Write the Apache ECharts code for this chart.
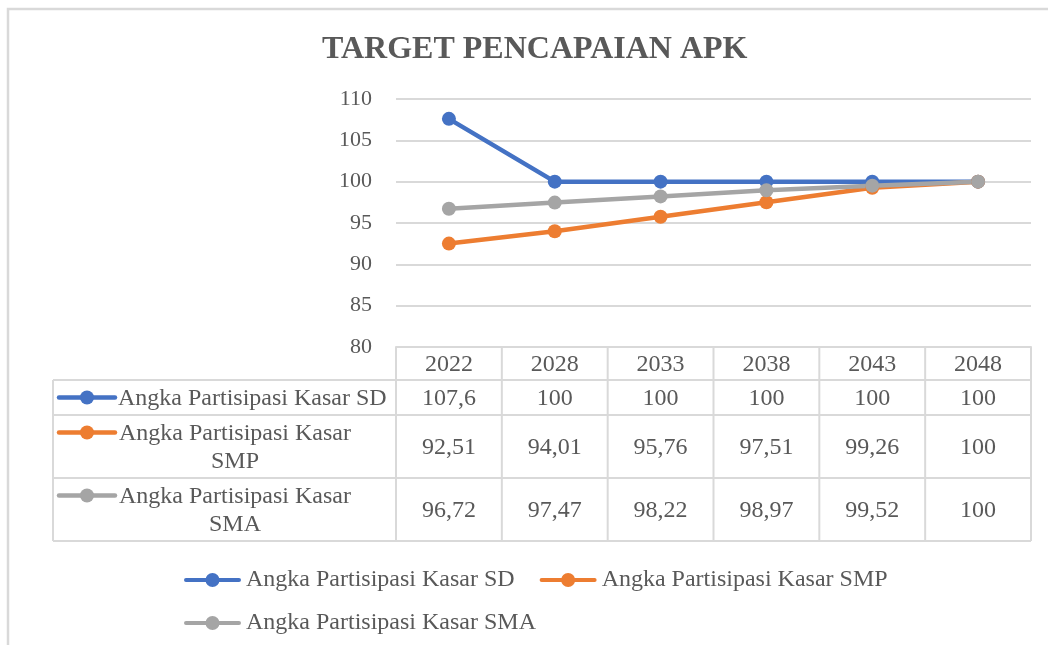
<!DOCTYPE html>
<html>
<head>
<meta charset="utf-8">
<script src="https://cdn.jsdelivr.net/npm/echarts@6/dist/echarts.min.js"></script>
<style>
html, body { margin: 0; padding: 0; background: #fff; }
#chart { width: 1048px; height: 645px; }
</style>
</head>
<body>
<div id="chart"></div>
<script>
const years = ['2022', '2028', '2033', '2038', '2043', '2048'];
const seriesNames = ['Angka Partisipasi Kasar SD', 'Angka Partisipasi Kasar SMP', 'Angka Partisipasi Kasar SMA'];
const apkSD = [107.6, 100, 100, 100, 100, 100];
const apkSMP = [92.51, 94.01, 95.76, 97.51, 99.26, 100];
const apkSMA = [96.72, 97.47, 98.22, 98.97, 99.52, 100];
const yMin = 80, yMax = 110, yStep = 5;

const colors = ['#4472C4', '#ED7D31', '#A5A5A5'];
const textColor = '#595959';
const lineColor = '#D9D9D9';
const font = '"Liberation Serif", "Times New Roman", serif';
// thick line with a dot in the middle, like the Excel legend key
const keyIcon = 'path://M2,5L55,5A2,2 0 0 1 55,9L2,9A2,2 0 0 1 2,5Z M21.5,7A7,7 0 1 1 35.5,7A7,7 0 1 1 21.5,7Z';

const chart = echarts.init(document.getElementById('chart'));

const allValues = [apkSD, apkSMP, apkSMA];

const legendBase = {
    itemWidth: 57,
    itemHeight: 14,
    itemGap: 25,
    icon: keyIcon,
    textStyle: { fontFamily: font, fontSize: 24, color: textColor }
};

chart.setOption({
    animation: false,
    title: {
        text: 'TARGET PENCAPAIAN APK',
        left: 317,
        top: 29,
        textStyle: { fontFamily: font, fontWeight: 'bold', fontSize: 32, color: textColor }
    },
    grid: { left: 396, right: 17, top: 99, bottom: 298 },
    xAxis: {
        type: 'category',
        data: years,
        boundaryGap: true,
        axisLine: { lineStyle: { color: lineColor, width: 2 } },
        axisTick: { show: false },
        axisLabel: { show: false }
    },
    yAxis: {
        type: 'value',
        min: yMin,
        max: yMax,
        interval: yStep,
        axisLine: { show: false },
        axisTick: { show: false },
        splitLine: { lineStyle: { color: lineColor, width: 2 } },
        axisLabel: { margin: 24, fontFamily: font, fontSize: 22, color: textColor }
    },
    legend: [
        Object.assign({ left: 179, top: 563, data: seriesNames.slice(0, 2) }, legendBase),
        Object.assign({ left: 179, top: 606, data: seriesNames.slice(2) }, legendBase)
    ],
    series: seriesNames.map((name, i) => ({
        name: name,
        type: 'line',
        data: allValues[i],
        symbol: 'circle',
        symbolSize: 14,
        color: colors[i],
        lineStyle: { width: 4.5, color: colors[i] },
        itemStyle: { color: colors[i] }
    }))
});

// data table under the plot, columns follow the category axis
function fmt(v) {
    return String(v).replace('.', ',');
}

function buildTable() {
    const centers = years.map((y, i) => chart.convertToPixel({ xAxisIndex: 0 }, i));
    const half = (centers[1] - centers[0]) / 2;
    const colLeft = centers[0] - half;
    const colRight = centers[centers.length - 1] + half;
    const tableLeft = 53;
    const headTop = 347;
    const rows = [
        { top: 380, h: 35 },
        { top: 415, h: 63 },
        { top: 478, h: 63 }
    ];
    const tableBottom = rows[2].top + rows[2].h;
    const g = [];
    const ls = { stroke: lineColor, lineWidth: 2 };

    // outer frame of the chart area
    g.push({ type: 'rect', shape: { x: 8, y: 9, width: 1100, height: 700 },
        style: { fill: null, stroke: lineColor, lineWidth: 2.5 }, silent: true, z: -1 });

    // vertical lines
    for (let i = 0; i <= years.length; i++) {
        const x = colLeft + i * half * 2;
        g.push({ type: 'line', shape: { x1: x, y1: headTop, x2: x, y2: tableBottom }, style: ls });
    }
    g.push({ type: 'line', shape: { x1: tableLeft, y1: rows[0].top, x2: tableLeft, y2: tableBottom }, style: ls });
    // horizontal lines
    rows.forEach(r => {
        g.push({ type: 'line', shape: { x1: tableLeft, y1: r.top, x2: colRight, y2: r.top }, style: ls });
    });
    g.push({ type: 'line', shape: { x1: tableLeft, y1: tableBottom, x2: colRight, y2: tableBottom }, style: ls });

    const ts = { fontFamily: font, fontSize: 24, fill: textColor, align: 'center', verticalAlign: 'middle' };

    // header years
    years.forEach((y, i) => {
        g.push({ type: 'text', x: centers[i], y: (headTop + rows[0].top) / 2 + 1, style: Object.assign({ text: y }, ts) });
    });

    rows.forEach((r, s) => {
        const cy = r.top + r.h / 2;
        allValues[s].forEach((v, i) => {
            g.push({ type: 'text', x: centers[i], y: cy + 1, style: Object.assign({ text: fmt(v) }, ts) });
        });
        const name = seriesNames[s];
        let iconY;
        if (name.length <= 26) {
            iconY = cy;
            g.push({ type: 'text', x: 118, y: cy + 1,
                style: Object.assign({}, ts, { text: name, align: 'left' }) });
        } else {
            const cut = name.lastIndexOf(' ');
            iconY = cy - 14;
            g.push({ type: 'text', x: 235, y: cy + 1,
                style: Object.assign({}, ts, { text: name.slice(0, cut) + '\n' + name.slice(cut + 1), lineHeight: 28 }) });
        }
        g.push({ type: 'line', shape: { x1: 59, y1: iconY, x2: 115, y2: iconY },
            style: { stroke: colors[s], lineWidth: 4.5, lineCap: 'round' } });
        g.push({ type: 'circle', shape: { cx: 87, cy: iconY, r: 7 }, style: { fill: colors[s] } });
    });

    chart.setOption({ graphic: g });
}

buildTable();
</script>
</body>
</html>
